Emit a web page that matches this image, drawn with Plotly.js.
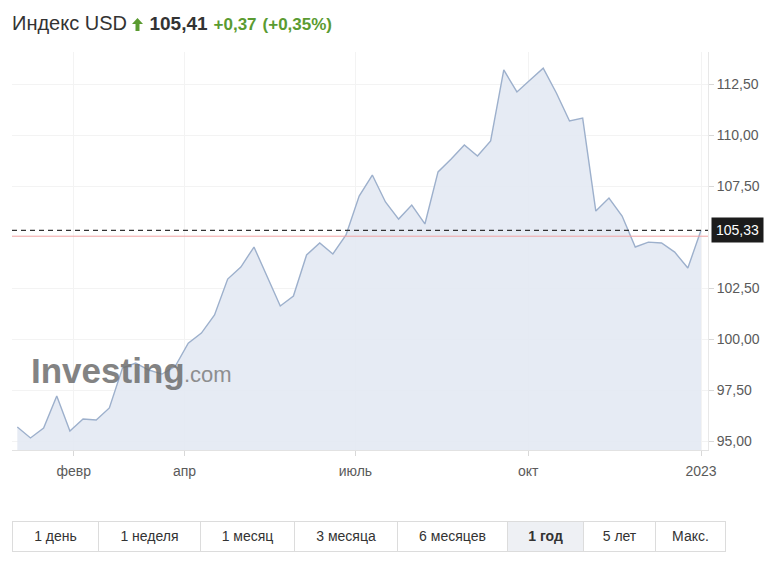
<!DOCTYPE html>
<html>
<head>
<meta charset="utf-8">
<script src="https://cdn.plot.ly/plotly-3.0.1.min.js"></script>
<style>
  html, body { margin: 0; padding: 0; background: #fff; width: 783px; height: 562px; overflow: hidden;
    font-family: "Liberation Sans", Arial, sans-serif; }
  #chart { position: absolute; left: 0; top: 0; width: 783px; height: 562px; }
  #hdr { position: absolute; left: 12px; top: 10px; height: 26px; line-height: 26px; white-space: nowrap; color: #333; }
  #hdr .name { font-size: 20px; }
  #hdr .last { font-size: 19px; font-weight: bold; color: #333; margin-left: 2px; }
  #hdr .chg { font-size: 17px; font-weight: bold; color: #5a9b31; margin-left: 6px; }
  #hdr svg { vertical-align: -1px; margin-left: 5px; }
  #bar { position: absolute; left: 12px; top: 521px; height: 31px; display: flex; border: 1px solid #dcdcdc; box-sizing: border-box; }
  #bar div { height: 29px; line-height: 29px; text-align: center; font-size: 14px; color: #333; border-left: 1px solid #dcdcdc; box-sizing: border-box; }
  #bar div:first-child { border-left: none; }
  #bar div.on { background: #eef0f4; font-weight: bold; }
</style>
</head>
<body>
<div id="chart"></div>
<div id="hdr"></div>
<div id="bar"></div>
<script>
// ---- data ----
var instrument = "Индекс USD";
var lastPrice = "105,41";
var changeAbs = "+0,37";
var changePct = "(+0,35%)";
var currentValue = 105.33;
var prevClose = 105.04;

var weekDates = [
  "2022-01-02","2022-01-09","2022-01-16","2022-01-23","2022-01-30",
  "2022-02-06","2022-02-13","2022-02-20","2022-02-27",
  "2022-03-06","2022-03-13","2022-03-20","2022-03-27",
  "2022-04-03","2022-04-10","2022-04-17","2022-04-24",
  "2022-05-01","2022-05-08","2022-05-15","2022-05-22","2022-05-29",
  "2022-06-05","2022-06-12","2022-06-19","2022-06-26",
  "2022-07-03","2022-07-10","2022-07-17","2022-07-24","2022-07-31",
  "2022-08-07","2022-08-14","2022-08-21","2022-08-28",
  "2022-09-04","2022-09-11","2022-09-18","2022-09-25",
  "2022-10-02","2022-10-09","2022-10-16","2022-10-23","2022-10-30",
  "2022-11-06","2022-11-13","2022-11-20","2022-11-27",
  "2022-12-04","2022-12-11","2022-12-18","2022-12-25",
  "2023-01-01"
];
var weekClose = [
  95.69, 95.15, 95.64, 97.21, 95.49,
  96.08, 96.03, 96.62, 98.58,
  98.82, 98.48, 98.28, 98.65,
  99.80, 100.29, 101.18, 102.94,
  103.53, 104.51, 103.09, 101.62, 102.11,
  104.12, 104.71, 104.17, 105.10,
  107.01, 108.04, 106.72, 105.88, 106.57,
  105.64, 108.19, 108.82, 109.51,
  108.97, 109.71, 113.19, 112.11,
  112.70, 113.28, 112.06, 110.69, 110.83,
  106.27, 106.91, 106.03, 104.51,
  104.75, 104.71, 104.26, 103.48,
  105.33
];
var xTickVals = ["2022-02-01","2022-04-01","2022-07-01","2022-10-01","2023-01-01"];
var xTickText = ["февр","апр","июль","окт","2023"];
// 105,00 sits under the current-value box in the reference, so it is not labelled
var yTickVals = [95, 97.5, 100, 102.5, 107.5, 110, 112.5];
var periods = ["1 день","1 неделя","1 месяц","3 месяца","6 месяцев","1 год","5 лет","Макс."];
var activePeriod = "1 год";

// ---- header ----
var hdr = document.getElementById('hdr');
hdr.innerHTML = '<span class="name"></span>' +
  '<svg width="11" height="13" viewBox="0 0 11 13"><path d="M5.5 0 L11 6 L7.5 6 L7.5 13 L3.5 13 L3.5 6 L0 6 Z" fill="#5a9b31"/></svg> ' +
  '<span class="last"></span><span class="chg c1"></span><span class="chg c2"></span>';
hdr.querySelector('.name').textContent = instrument;
hdr.querySelector('.last').textContent = lastPrice;
hdr.querySelector('.c1').textContent = changeAbs;
hdr.querySelector('.c2').textContent = changePct;

// ---- period bar ----
var widths = [85, 102, 94, 103, 110, 76, 72, 70];
var bar = document.getElementById('bar');
periods.forEach(function (p, i) {
  var d = document.createElement('div');
  d.textContent = p;
  d.style.width = widths[i] + 'px';
  if (p === activePeriod) d.className = 'on';
  bar.appendChild(d);
});

// ---- chart ----
var fnt = "Liberation Sans, Arial, sans-serif";
var trace = {
  x: weekDates, y: weekClose, type: 'scatter', mode: 'lines',
  line: { color: '#9db0cc', width: 1.4 },
  fill: 'tozeroy', fillcolor: 'rgba(226,232,242,0.85)',
  hoverinfo: 'skip'
};
var layout = {
  width: 783, height: 562,
  margin: { l: 12, r: 75, t: 52, b: 112 },
  paper_bgcolor: 'rgba(0,0,0,0)', plot_bgcolor: '#fff',
  showlegend: false,
  separators: ', ',
  font: { family: fnt, size: 14, color: '#5a5a5a' },
  xaxis: {
    type: 'date',
    range: ['2021-12-30 04:00', '2023-01-04 17:30'],
    tickvals: xTickVals, ticktext: xTickText,
    ticks: 'outside', ticklen: 5, tickcolor: '#d8d8d8',
    ticklabelstandoff: 3,
    showgrid: true, gridcolor: '#f3f3f3',
    showline: true, linecolor: '#e2e2e2', linewidth: 1,
    zeroline: false, fixedrange: true,
    tickfont: { family: fnt, size: 14, color: '#5a5a5a' }
  },
  yaxis: {
    side: 'right',
    range: [94.56, 114.07],
    tickvals: yTickVals, tickformat: '.2f',
    ticks: 'outside', ticklen: 5, tickcolor: '#d8d8d8',
    showgrid: true, gridcolor: '#f3f3f3',
    showline: true, linecolor: '#e8e8e8', linewidth: 1,
    zeroline: false, fixedrange: true,
    tickfont: { family: fnt, size: 14, color: '#5a5a5a' }
  },
  shapes: [
    { type: 'line', xref: 'paper', yref: 'y', x0: 0, x1: 1, y0: prevClose, y1: prevClose,
      line: { color: '#f0a2a2', width: 1 } },
    { type: 'line', xref: 'paper', yref: 'y', x0: 0, x1: 1, y0: currentValue, y1: currentValue,
      line: { color: '#333333', width: 1.2, dash: '5px,4px' } }
  ],
  annotations: [
    { xref: 'paper', yref: 'y', x: 1, y: currentValue, xanchor: 'left', yanchor: 'middle',
      xshift: 3, showarrow: false, text: currentValue.toFixed(2).replace('.', ','),
      bgcolor: '#1c1c1c', borderpad: 4, font: { family: fnt, size: 14, color: '#ffffff' } },
    { xref: 'paper', yref: 'paper', x: 0.024, y: 0.2, xanchor: 'left', yanchor: 'middle',
      showarrow: false, text: '<b>Investing</b>', opacity: 0.85,
      font: { family: fnt, size: 35, color: '#6e6e6e' } },
    { xref: 'paper', yref: 'paper', x: 0.244, y: 0.19, xanchor: 'left', yanchor: 'middle',
      showarrow: false, text: '.com', opacity: 0.85,
      font: { family: fnt, size: 22, color: '#7e7e7e' } }
  ]
};
Plotly.newPlot('chart', [trace], layout, { staticPlot: true, displayModeBar: false });
</script>
</body>
</html>
